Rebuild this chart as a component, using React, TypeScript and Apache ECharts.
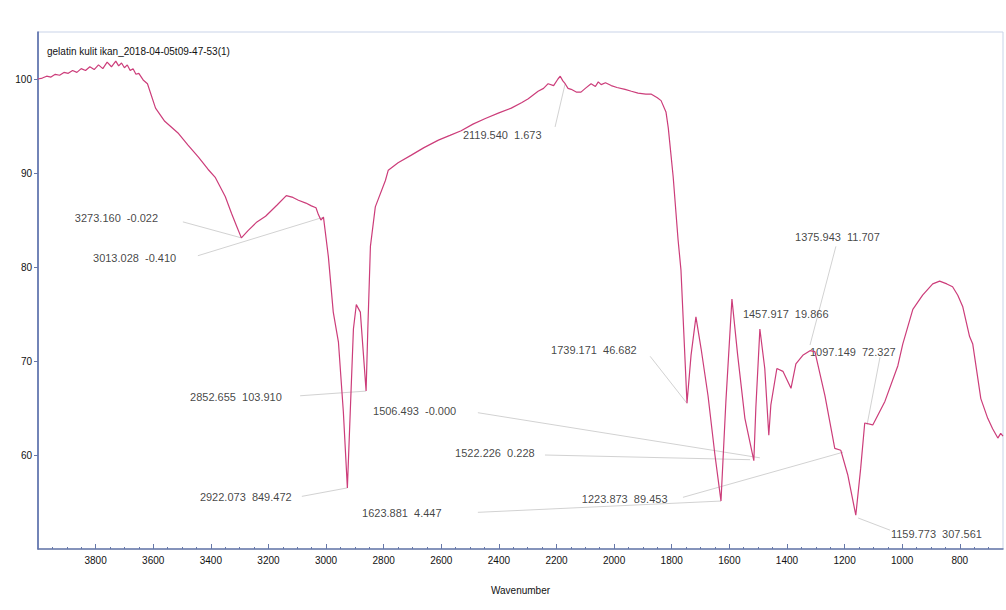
import { useEffect, useRef } from "react";
import * as echarts from "echarts";

const titleText = "gelatin kulit ikan_2018-04-05t09-47-53(1)";
const xAxisName = "Wavenumber";

const wavenumber = [
  4000, 3985, 3970, 3955, 3940, 3925, 3910, 3895, 3880, 3865, 3850, 3835, 3820, 3805, 3790, 3775,
  3760, 3745, 3730, 3720, 3710, 3700, 3690, 3680, 3670, 3660, 3650, 3635, 3620, 3592, 3560, 3512,
  3480, 3443, 3410, 3384, 3350, 3328, 3310, 3294, 3270, 3240, 3210, 3170, 3138, 3115, 3096, 3070,
  3051, 3035, 3027, 3018, 3009, 2992, 2975, 2957, 2940, 2926, 2916, 2905, 2895, 2881, 2871, 2861,
  2855, 2846, 2829, 2794, 2784, 2750, 2704, 2660, 2610, 2570, 2531, 2490, 2447, 2400, 2357, 2320,
  2298, 2264, 2245, 2229, 2210, 2195, 2187, 2178, 2170, 2160, 2149, 2130, 2115, 2100, 2080, 2065,
  2055, 2045, 2030, 2010, 1990, 1962, 1940, 1917, 1890, 1872, 1850, 1837, 1820, 1812, 1795, 1778,
  1768, 1747, 1733, 1716, 1698, 1674, 1650, 1629, 1612, 1591, 1571, 1546, 1515, 1508, 1494, 1477,
  1463, 1456, 1435, 1414, 1386, 1369, 1345, 1320, 1303, 1268, 1234, 1213, 1189, 1161, 1144, 1130,
  1102, 1060, 1015, 998, 963, 929, 894, 870, 845, 825, 807, 790, 766, 755, 727, 703, 686, 668, 658, 650,
];

const transmittance = [
  100.0, 100.1, 100.3, 100.2, 100.5, 100.4, 100.7, 100.6, 100.9, 100.7, 101.1, 100.9, 101.3, 101.0, 101.5, 101.1,
  101.8, 101.3, 101.9, 101.4, 101.7, 101.2, 101.5, 100.9, 101.1, 100.5, 100.6, 99.9, 99.5, 96.9, 95.5, 94.2,
  93.0, 91.7, 90.4, 89.5, 87.5, 85.7, 84.3, 83.1, 83.9, 84.8, 85.4, 86.6, 87.6, 87.4, 87.1, 86.8,
  86.5, 86.3, 85.6, 85.0, 85.3, 81.1, 75.2, 72.0, 64.6, 56.5, 64.6, 73.4, 76.0, 75.2, 71.0, 66.8,
  73.4, 82.2, 86.4, 89.2, 90.3, 91.1, 91.9, 92.7, 93.5, 94.0, 94.5, 95.2, 95.8, 96.4, 96.9, 97.5,
  97.9, 98.7, 99.0, 99.5, 99.3, 100.0, 100.3, 99.8, 99.5, 99.0, 98.9, 98.6, 98.6, 99.0, 99.5, 99.2,
  99.7, 99.4, 99.6, 99.3, 99.1, 98.9, 98.7, 98.5, 98.4, 98.4, 98.0, 97.7, 96.5, 94.8, 89.6, 82.9,
  79.7, 65.5, 70.6, 74.7, 71.3, 66.3, 60.0, 55.1, 65.7, 76.6, 70.6, 63.9, 59.4, 65.0, 73.4, 69.2,
  62.1, 65.3, 69.2, 68.9, 67.1, 69.7, 70.6, 71.1, 71.0, 66.3, 60.7, 60.5, 57.9, 53.6, 58.6, 63.4,
  63.2, 65.7, 69.5, 71.8, 75.5, 77.0, 78.2, 78.5, 78.2, 77.9, 77.0, 75.8, 72.6, 71.8, 66.0, 63.9, 62.8, 61.8, 62.3, 62.0,
];

const xTickValues = [3800, 3600, 3400, 3200, 3000, 2800, 2600, 2400, 2200, 2000, 1800, 1600, 1400, 1200, 1000, 800];
const yTickValues = [60, 70, 80, 90, 100];

const peakLabels = [
  "3273.160  -0.022",
  "3013.028  -0.410",
  "2852.655  103.910",
  "2922.073  849.472",
  "1506.493  -0.000",
  "1522.226  0.228",
  "1623.881  4.447",
  "2119.540  1.673",
  "1739.171  46.682",
  "1223.873  89.453",
  "1457.917  19.866",
  "1375.943  11.707",
  "1097.149  72.327",
  "1159.773  307.561",
];
const labelWn = [3872, 3809, 3472, 3438, 2837, 2552, 2875, 2525, 2219, 2112, 1553, 1372, 1320, 1039];
const labelT = [85.2, 81.0, 66.2, 55.5, 64.7, 60.2, 53.8, 94.0, 71.2, 55.3, 75.0, 83.2, 71.0, 51.6];

const leaderStartWn = [3497, 3445, 3090, 3084, 2473, 2240, 2473, 2205, 1875, 1761, 1230, 1077, 1153];
const leaderStartT = [84.8, 81.2, 66.3, 55.6, 64.5, 60.0, 53.9, 94.9, 70.5, 55.5, 82.2, 70.4, 53.3];
const leaderEndWn = [3294, 3009, 2861, 2926, 1494, 1528, 1629, 2170, 1747, 1205, 1320, 1122, 1042];
const leaderEndT = [83.1, 85.3, 66.8, 56.5, 59.7, 59.5, 55.1, 99.5, 65.5, 60.3, 71.7, 63.2, 52.0];

export default function App() {
  const ref = useRef<HTMLDivElement>(null);
  useEffect(() => {
    if (!ref.current) return;
    const chart = echarts.init(ref.current, undefined, { renderer: "svg" });
    const minorTicks: number[] = [];
    for (let v = 700; v <= 3950; v += 50) if (v % 200 !== 0) minorTicks.push(v);
    const font = "'Liberation Sans', Arial, sans-serif";
    chart.setOption({
      animation: false,
      backgroundColor: "#ffffff",
      title: {
        text: titleText,
        left: 42,
        top: 41,
        textStyle: { fontSize: 10, fontWeight: "normal", color: "#111", fontFamily: font },
      },
      grid: {
        left: 38,
        right: 3,
        top: 32,
        bottom: 61,
        show: true,
        borderColor: "#c9d3e8",
        borderWidth: 1,
        backgroundColor: "transparent",
      },
      xAxis: [
        {
          type: "value",
          inverse: true,
          min: 650,
          max: 4000,
          name: xAxisName,
          nameLocation: "middle",
          nameGap: 36,
          nameTextStyle: { fontSize: 10, color: "#111", fontFamily: font },
          splitLine: { show: false },
          axisLine: { show: true, lineStyle: { color: "#6677a8", width: 1.5 } },
          axisTick: { show: true, inside: true, length: 5, customValues: xTickValues, lineStyle: { color: "#6677a8" } },
          axisLabel: {
            customValues: xTickValues,
            fontSize: 10,
            color: "#111",
            margin: 6,
            fontFamily: font,
            formatter: (v: number) => String(v),
          },
        },
        {
          type: "value",
          inverse: true,
          min: 650,
          max: 4000,
          position: "bottom",
          splitLine: { show: false },
          axisLine: { show: false },
          axisTick: { show: true, inside: true, length: 2, customValues: minorTicks, lineStyle: { color: "#6677a8" } },
          axisLabel: { show: false },
        },
      ],
      yAxis: {
        type: "value",
        min: 50,
        max: 105,
        splitLine: { show: false },
        axisLine: { show: true, lineStyle: { color: "#4d62a3", width: 1.5 } },
        axisTick: { show: true, length: 4, customValues: yTickValues, lineStyle: { color: "#6677a8" } },
        axisLabel: {
          customValues: yTickValues,
          fontSize: 10,
          color: "#111",
          margin: 6,
          fontFamily: font,
          formatter: (v: number) => String(v),
        },
      },
      series: [
        {
          type: "lines",
          coordinateSystem: "cartesian2d",
          silent: true,
          lineStyle: { color: "#d2d2d2", width: 1, opacity: 1 },
          data: leaderStartWn.map((w, i) => ({
            coords: [
              [w, leaderStartT[i]],
              [leaderEndWn[i], leaderEndT[i]],
            ],
          })),
        },
        {
          type: "line",
          showSymbol: false,
          data: wavenumber.map((w, i) => [w, transmittance[i]]),
          lineStyle: { color: "#cc3d7a", width: 1.2 },
          itemStyle: { color: "#cc3d7a" },
        },
        {
          type: "scatter",
          symbolSize: 0,
          silent: true,
          data: labelWn.map((w, i) => [w, labelT[i], peakLabels[i]]),
          label: {
            show: true,
            position: "right",
            distance: 0,
            fontSize: 11,
            color: "#111",
            fontFamily: font,
            formatter: (p: any) => p.data[2],
          },
        },
      ],
    });
    return () => chart.dispose();
  }, []);
  return (
    <div
      ref={ref}
      style={{ position: "fixed", left: 0, top: 0, width: 1006, height: 610, background: "#fff" }}
    />
  );
}
